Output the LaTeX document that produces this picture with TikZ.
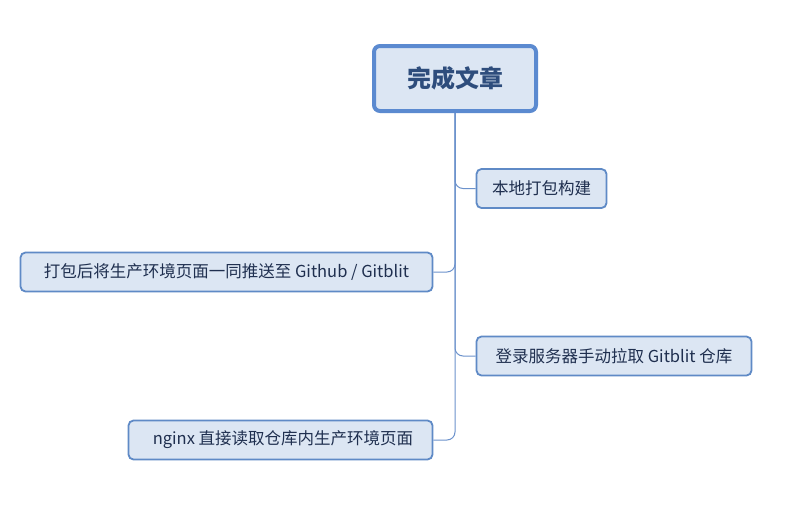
\documentclass[tikz,border=0pt]{standalone}
\usepackage{fontspec}
\setmainfont{Noto Sans CJK SC}
\begin{document}
\begin{tikzpicture}[x=1pt,y=-1pt,
  rootbox/.style={draw=rootedge,fill=boxfill,line width=4pt,rounded corners=6pt,
    minimum width=162pt,minimum height=65pt,inner sep=0pt,text=roottext,
    font=\fontsize{24}{28}\selectfont\bfseries},
  childbox/.style={draw=childedge,fill=boxfill,line width=1.8pt,rounded corners=5pt,
    minimum height=39pt,inner sep=0pt,text=childtext,
    font=\fontsize{16.5}{20}\selectfont},
  conn/.style={draw=connline,line width=1pt,rounded corners=8pt}]
\definecolor{rootedge}{HTML}{5B8AD0}
\definecolor{childedge}{HTML}{5F8AC6}
\definecolor{boxfill}{HTML}{DCE6F3}
\definecolor{roottext}{HTML}{2E4D7C}
\definecolor{childtext}{HTML}{1F2F4F}
\definecolor{connline}{HTML}{6C92CC}
\useasboundingbox (0,0) rectangle (812,517);
\fill[white] (0,0) rectangle (812,517);
\node[childbox,minimum width=130pt] (c1) at (541.5,188.5) {本地打包构建};
\node[childbox,minimum width=412pt] (c2) at (226.5,272) {打包后将生产环境页面一同推送至 Github / Gitblit};
\node[childbox,minimum width=275pt] (c3) at (614,356) {登录服务器手动拉取 Gitblit 仓库};
\node[childbox,minimum width=304pt] (c4) at (280.5,440) {\hspace*{5pt}nginx 直接读取仓库内生产环境页面};
\node[rootbox] (root) at (455,78.5) {完成文章};
\draw[conn] (root.south) |- (c1.west);
\draw[conn] (root.south) |- (c2.east);
\draw[conn] (root.south) |- (c3.west);
\draw[conn] (root.south) |- (c4.east);
\end{tikzpicture}
\end{document}
